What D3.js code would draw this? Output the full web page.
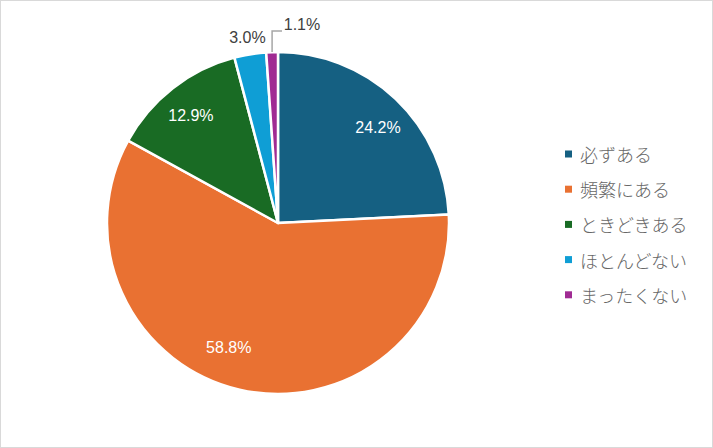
<!DOCTYPE html>
<html>
<head>
<meta charset="utf-8">
<script src="https://cdn.jsdelivr.net/npm/d3@7"></script>
<style>
  body { margin: 0; background: #fff; }
  svg { display: block; }
</style>
</head>
<body>
<svg id="chart" width="713" height="448"></svg>
<script>
var categories = ['必ずある', '頻繁にある', 'ときどきある', 'ほとんどない', 'まったくない'];
var values = [24.2, 58.8, 12.9, 3.0, 1.1];
var colors = ['#156082', '#e97132', '#196b24', '#0f9ed5', '#a02b93'];

var svg = d3.select('#chart');
var width = +svg.attr('width');
var height = +svg.attr('height');

svg.append('rect')
    .attr('x', 0.5).attr('y', 0.5)
    .attr('width', width - 1).attr('height', height - 1)
    .attr('fill', '#fff')
    .attr('stroke', '#d9d9d9');

var cx = 278, cy = 223, radius = 171;

var pie = d3.pie().sort(null).value(function(d) { return d; });
var arcs = pie(values);

var arc = d3.arc().innerRadius(0).outerRadius(radius);
var outerArc = d3.arc().innerRadius(188).outerRadius(188);

var g = svg.append('g').attr('transform', 'translate(' + cx + ',' + cy + ')');

g.selectAll('.slice')
    .data(arcs)
    .enter().append('path')
    .attr('class', 'slice')
    .attr('d', arc)
    .attr('fill', function(d, i) { return colors[i]; })
    .attr('stroke', '#fff')
    .attr('stroke-width', 2.5)
    .attr('stroke-linejoin', 'round');

// inside labels for big slices, outside for small ones
g.selectAll('.label')
    .data(arcs)
    .enter().append('text')
    .attr('class', 'label')
    .attr('font-family', 'Liberation Sans, Arial, sans-serif')
    .attr('font-size', 16)
    .attr('text-anchor', 'middle')
    .attr('dominant-baseline', 'central')
    .attr('fill', function(d) { return d.data >= 10 ? '#fff' : '#404040'; })
    .attr('transform', function(d, i) {
        var p;
        if (d.data >= 10) {
            // nudge the wider slices a bit clockwise, like the spreadsheet's best fit
            var a = (d.startAngle + d.endAngle) / 2 + (d.data > 50 ? 0.15 : d.data > 20 ? 0.05 : -0.02);
            var r = d.data > 50 ? 134 : 138;
            p = [r * Math.sin(a), -r * Math.cos(a)];
        } else if (i === 3) {
            p = outerArc.centroid(d);
        } else {
            p = [302 - cx, 24 - cy];
        }
        return 'translate(' + p[0] + ',' + p[1] + ')';
    })
    .text(function(d) { return d.data.toFixed(1) + '%'; });

// leader line for the last slice
var last = arcs[arcs.length - 1];
var edge = d3.arc().innerRadius(radius).outerRadius(radius).centroid(last);
var leader = d3.path();
leader.moveTo(edge[0], edge[1]);
leader.lineTo(edge[0], 31 - cy);
leader.lineTo(282 - cx, 31 - cy);
g.append('path')
    .attr('d', leader.toString())
    .attr('fill', 'none')
    .attr('stroke', '#a6a6a6')
    .attr('stroke-width', 1.5);

// legend
var legend = svg.append('g').attr('transform', 'translate(565,154)');
var items = legend.selectAll('.item')
    .data(categories)
    .enter().append('g')
    .attr('class', 'item')
    .attr('transform', function(d, i) { return 'translate(0,' + (i * 35.2) + ')'; });

items.append('rect')
    .attr('x', 0).attr('y', -3.5)
    .attr('width', 7).attr('height', 7)
    .attr('fill', function(d, i) { return colors[i]; });

items.append('text')
    .attr('x', 15)
    .attr('y', 0)
    .attr('dominant-baseline', 'central')
    .attr('font-family', 'Noto Sans CJK JP, sans-serif')
    .attr('font-size', 18)
    .attr('font-weight', 300)
    .attr('fill', '#666')
    .text(function(d) { return d; });
</script>
</body>
</html>
